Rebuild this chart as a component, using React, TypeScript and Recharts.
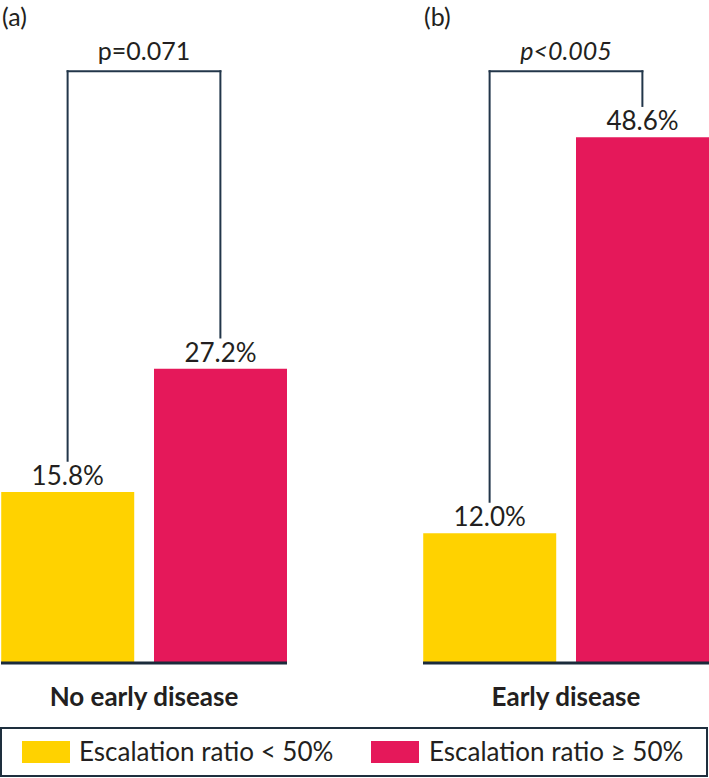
import React from 'react';
import { BarChart, Bar, XAxis, YAxis, Cell, LabelList, ReferenceLine } from 'recharts';

const panelTags = ['(a)', '(b)'];
const categories = ['No early disease', 'Early disease'];
const lowValues = [15.8, 12.0];
const highValues = [27.2, 48.6];
const pLabels = ['p=0.071', 'p<0.005'];
const pItalic = [false, true];
const seriesNames = ['Escalation ratio < 50%', 'Escalation ratio \u2265 50%'];
const seriesColors = ['#FFD200', '#E5185A'];

const INK = '#231f20';
const LINE = '#22364a';
const FONT = 'Lato, "Noto Sans", sans-serif';
const BRACKET_TOP = 54.7;
const BRACKET_GAP = 2.9;

function Panel({ idx, left, width, mLeft, mRight }: { idx: number; left: number; width: number; mLeft: number; mRight: number }) {
  const data = [
    { x: 1, value: lowValues[idx] },
    { x: 2, value: highValues[idx] },
  ];
  const low = lowValues[idx];
  const high = highValues[idx];
  const pText = (props: any) => {
    const vb = props.viewBox || {};
    return (
      <text
        x={vb.x + vb.width / 2}
        y={vb.y - 11}
        textAnchor="middle"
        fill={INK}
        fontSize={25}
        fontFamily={FONT}
        fontStyle={pItalic[idx] ? 'italic' : 'normal'}
      >
        {pLabels[idx]}
      </text>
    );
  };
  const catLabel = (props: any) => {
    const vb = props.viewBox || {};
    return (
      <text
        x={vb.x + vb.width / 2}
        y={vb.y + 43}
        textAnchor="middle"
        fill={INK}
        fontSize={26}
        fontWeight="bold"
        fontFamily={FONT}
      >
        {categories[idx]}
      </text>
    );
  };
  return (
    <div style={{ position: 'absolute', left, top: 0 }}>
      <BarChart width={width} height={720} data={data} margin={{ top: 14, right: mRight, left: mLeft, bottom: 7 }}>
        <XAxis
          type="number"
          dataKey="x"
          domain={[0.564, 2.436]}
          ticks={[1, 2]}
          tick={false}
          tickLine={false}
          height={50}
          axisLine={{ stroke: '#1b2b3b', strokeWidth: 3 }}
          label={catLabel}
        />
        <YAxis hide domain={[0, 60]} />
        <Bar dataKey="value" barSize={133} isAnimationActive={false}>
          {data.map((d, i) => (
            <Cell key={i} fill={seriesColors[i]} />
          ))}
          <LabelList
            dataKey="value"
            position="top"
            offset={7}
            formatter={(v: any) => `${Number(v).toFixed(1)}%`}
            fill={INK}
            fontSize={26}
            fontFamily={FONT}
          />
        </Bar>
        <ReferenceLine
          segment={[{ x: 1, y: low + BRACKET_GAP }, { x: 1, y: BRACKET_TOP }]}
          stroke={LINE}
          strokeWidth={2}
          strokeLinecap="square"
        />
        <ReferenceLine
          segment={[{ x: 1, y: BRACKET_TOP }, { x: 2, y: BRACKET_TOP }]}
          stroke={LINE}
          strokeWidth={2}
          strokeLinecap="square"
          label={pText}
        />
        <ReferenceLine
          segment={[{ x: 2, y: BRACKET_TOP }, { x: 2, y: high + BRACKET_GAP }]}
          stroke={LINE}
          strokeWidth={2}
          strokeLinecap="square"
        />
      </BarChart>
    </div>
  );
}

export default function App() {
  return (
    <div style={{ position: 'absolute', left: 0, top: 0, width: 709, height: 778, background: '#fff', fontFamily: FONT, overflow: 'hidden' }}>
      <Panel idx={0} left={0} width={290} mLeft={1} mRight={3} />
      <Panel idx={1} left={422} width={287} mLeft={1} mRight={0} />
      <svg width={709} height={778} style={{ position: 'absolute', left: 0, top: 0, pointerEvents: 'none' }}>
        <text x={2} y={26} fontSize={25} fill={INK} fontFamily={FONT}>{panelTags[0]}</text>
        <text x={424} y={26} fontSize={25} fill={INK} fontFamily={FONT}>{panelTags[1]}</text>
        <rect x={1} y={728} width={706} height={48} fill="none" stroke="#1e2f3e" strokeWidth={2} />
        <rect x={22} y={741} width={48} height={22} fill={seriesColors[0]} />
        <text x={79} y={761} fontSize={26} fill={INK} fontFamily={FONT}>{seriesNames[0]}</text>
        <rect x={371} y={741} width={48} height={22} fill={seriesColors[1]} />
        <text x={429} y={761} fontSize={26} fill={INK} fontFamily={FONT}>{seriesNames[1]}</text>
      </svg>
    </div>
  );
}
